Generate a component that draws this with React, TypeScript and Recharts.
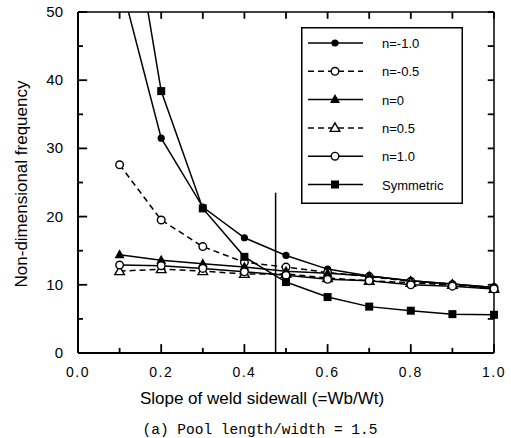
import { LineChart, Line, XAxis, YAxis, ReferenceLine, Label } from 'recharts'

// slope of weld sidewall (=Wb/Wt)
const slopes = [0.1, 0.2, 0.3, 0.4, 0.5, 0.6, 0.7, 0.8, 0.9, 1.0]

// non-dimensional frequency for each case
const nMinus10 = [55, 31.5, 21.4, 16.9, 14.3, 12.3, 11.3, 10.6, 10.1, 9.6]
const nMinus05 = [27.6, 19.5, 15.6, 13.3, 12.6, 11.8, 11.2, 10.5, 10.0, 9.6]
const nZero = [14.4, 13.6, 13.1, 12.6, 12.0, 11.7, 11.3, 10.6, 10.1, 9.6]
const nPlus05 = [12.0, 12.3, 12.0, 11.6, 11.6, 11.0, 10.6, 10.3, 10.0, 9.4]
const nPlus10 = [12.9, 12.8, 12.4, 11.9, 11.4, 10.8, 10.6, 10.0, 9.8, 9.4]
const symmetric = [75, 38.4, 21.2, 14.1, 10.4, 8.2, 6.8, 6.2, 5.7, 5.6]

const xLabelTicks = [0, 0.2, 0.4, 0.6, 0.8, 1.0]
const xTicks = [0, 0.1, 0.2, 0.3, 0.4, 0.5, 0.6, 0.7, 0.8, 0.9, 1.0]
const yLabelTicks = [0, 10, 20, 30, 40, 50]
const yTicks = [0, 5, 10, 15, 20, 25, 30, 35, 40, 45, 50]

// vertical marker line
const markerX = 0.475
const markerTop = 23.5

const series = [
  { key: 'nm10', name: 'n=-1.0', values: nMinus10, dash: undefined, shape: 'filledCircle' },
  { key: 'nm05', name: 'n=-0.5', values: nMinus05, dash: '6 4', shape: 'openCircle' },
  { key: 'n0', name: 'n=0', values: nZero, dash: undefined, shape: 'filledTriangle' },
  { key: 'np05', name: 'n=0.5', values: nPlus05, dash: '6 4', shape: 'openTriangle' },
  { key: 'np10', name: 'n=1.0', values: nPlus10, dash: undefined, shape: 'openCircle' },
  { key: 'sym', name: 'Symmetric', values: symmetric, dash: undefined, shape: 'filledSquare' },
]

const data = slopes.map((s, i) => {
  const row: any = { slope: s }
  series.forEach(se => { row[se.key] = se.values[i] })
  return row
})

const sans = 'Liberation Sans, Arial, sans-serif'

function Marker({ shape, cx, cy }: { shape: string, cx: number, cy: number }) {
  if (cx == null || cy == null || isNaN(cx) || isNaN(cy)) return null
  switch (shape) {
    case 'filledCircle':
      return <circle cx={cx} cy={cy} r={3.6} fill="#000" />
    case 'openCircle':
      return <circle cx={cx} cy={cy} r={3.8} fill="#fff" stroke="#000" strokeWidth={1.4} />
    case 'filledTriangle':
      return <polygon points={`${cx},${cy - 5.5} ${cx - 5},${cy + 3.5} ${cx + 5},${cy + 3.5}`} fill="#000" />
    case 'openTriangle':
      return <polygon points={`${cx},${cy - 5} ${cx - 4.8},${cy + 3.5} ${cx + 4.8},${cy + 3.5}`} fill="#fff" stroke="#000" strokeWidth={1.4} />
    case 'filledSquare':
      return <rect x={cx - 4} y={cy - 4} width={8} height={8} fill="#000" />
    default:
      return null
  }
}

const isMajorX = (v: number) => Math.round(v * 10) % 2 === 0
const isMajorY = (v: number) => Math.round(v) % 10 === 0

// inward tick marks as short segments in data units
const xTickLen = (v: number) => (isMajorX(v) ? 1.3 : 0.75)
const yTickLen = (v: number) => (isMajorY(v) ? 0.022 : 0.012)

function BottomTick(p: any) {
  const v = p.payload.value
  return <text x={p.x} y={p.y + 24} textAnchor="middle" fontSize={14} letterSpacing={1.5} fontFamily={sans} fill="#000">{v.toFixed(1)}</text>
}

function LeftTick(p: any) {
  return <text x={p.x - 15} y={p.y + 5} textAnchor="end" fontSize={15} fontFamily={sans} fill="#000">{p.payload.value}</text>
}

function LegendBox() {
  return (
    <svg width={162} height={177} style={{ display: 'block' }}>
      <rect x={0.75} y={0.75} width={160.5} height={175.5} fill="#fff" stroke="#000" strokeWidth={1.5} />
      {series.map((se, i) => {
        const y = 16 + i * 28.3
        return (
          <g key={se.key}>
            <line x1={7} x2={62} y1={y} y2={y} stroke="#000" strokeWidth={1.5} strokeDasharray={se.dash} />
            <Marker shape={se.shape} cx={34} cy={y} />
            <text x={81} y={y + 5} fontSize={13} fontFamily={sans} fill="#000">{se.name}</text>
          </g>
        )
      })}
    </svg>
  )
}

export default function App() {
  return (
    <div style={{ position: 'absolute', left: 0, top: 0, width: 511, height: 438, background: '#fff' }}>
      <LineChart width={511} height={438} data={data} margin={{ top: 11, right: 16, bottom: 55, left: 18 }}>
        <XAxis xAxisId="b" dataKey="slope" type="number" domain={[0, 1]} ticks={xLabelTicks} interval={0}
          tickLine={false} tickSize={0} tickMargin={0} tick={<BottomTick />}
          axisLine={{ stroke: '#000', strokeWidth: 2 }} height={30}>
          <Label content={() => (
            <g>
              <text x={262} y={404} textAnchor="middle" fontSize={17} fontFamily={sans} fill="#000">Slope of weld sidewall (=Wb/Wt)</text>
              <text x={260} y={434} textAnchor="middle" fontSize={14.5} fontFamily="Liberation Mono, monospace" fill="#000">(a) Pool length/width = 1.5</text>
            </g>
          )} />
        </XAxis>
        <XAxis xAxisId="t" orientation="top" dataKey="slope" type="number" domain={[0, 1]} ticks={xTicks}
          height={1} tickLine={false} tick={false} axisLine={{ stroke: '#000', strokeWidth: 1.5 }} />
        <YAxis yAxisId="l" type="number" domain={[0, 50]} ticks={yLabelTicks} interval={0} allowDataOverflow
          tickLine={false} tickSize={0} tickMargin={0} width={60} tick={<LeftTick />}
          axisLine={{ stroke: '#000', strokeWidth: 2 }}>
          <Label content={() => (
            <text x={27} y={184} transform="rotate(-90 27 184)" textAnchor="middle" fontSize={17} fontFamily={sans} fill="#000">Non-dimensional frequency</text>
          )} />
        </YAxis>
        <YAxis yAxisId="r" orientation="right" type="number" domain={[0, 50]} ticks={yTicks} allowDataOverflow
          width={1} tickLine={false} tick={false} axisLine={{ stroke: '#000', strokeWidth: 1.5 }} />
        {xTicks.map(v => (
          <ReferenceLine key={`xb${v}`} xAxisId="b" yAxisId="l" ifOverflow="visible"
            segment={[{ x: v, y: 0 }, { x: v, y: xTickLen(v) }]} stroke="#000" strokeWidth={1.8} />
        ))}
        {xTicks.map(v => (
          <ReferenceLine key={`xt${v}`} xAxisId="b" yAxisId="l" ifOverflow="visible"
            segment={[{ x: v, y: 50 }, { x: v, y: 49 }]} stroke="#000" strokeWidth={1.8} />
        ))}
        {yTicks.map(v => (
          <ReferenceLine key={`yl${v}`} xAxisId="b" yAxisId="l" ifOverflow="visible"
            segment={[{ x: 0, y: v }, { x: yTickLen(v), y: v }]} stroke="#000" strokeWidth={1.8} />
        ))}
        {yTicks.map(v => (
          <ReferenceLine key={`yr${v}`} xAxisId="b" yAxisId="l" ifOverflow="visible"
            segment={[{ x: 1, y: v }, { x: 0.985, y: v }]} stroke="#000" strokeWidth={1.8} />
        ))}
        <ReferenceLine xAxisId="b" yAxisId="l" segment={[{ x: markerX, y: 0 }, { x: markerX, y: markerTop }]}
          stroke="#000" strokeWidth={1.5} />
        {series.map(se => (
          <Line key={se.key} xAxisId="b" yAxisId="l" dataKey={se.key} name={se.name} type="linear"
            stroke="#000" strokeWidth={1.5} strokeDasharray={se.dash} isAnimationActive={false}
            dot={(p: any) => <Marker key={`${se.key}-${p.index}`} shape={se.shape} cx={p.cx} cy={p.cy} />}
            activeDot={false} />
        ))}
      </LineChart>
      <div style={{ position: 'absolute', left: 301, top: 27, width: 162, height: 177 }}>
        <LegendBox />
      </div>
    </div>
  )
}
